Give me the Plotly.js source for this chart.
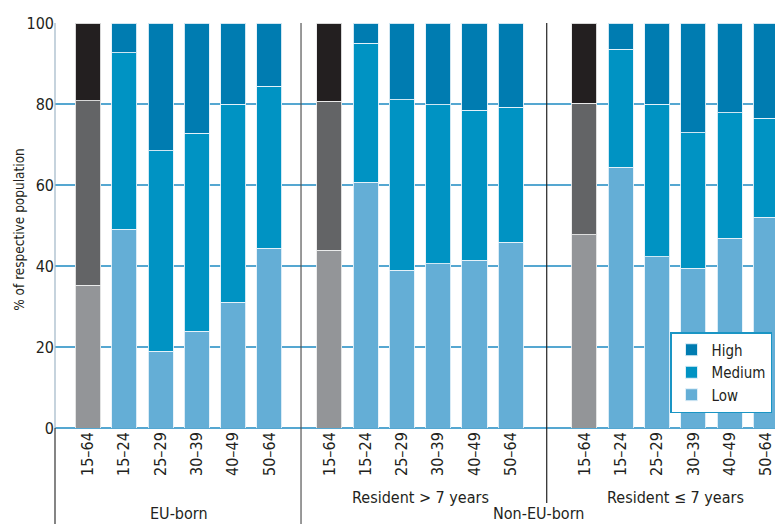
<!DOCTYPE html>
<html><head><meta charset="utf-8">
<script src="https://cdn.plot.ly/plotly-3.0.1.min.js"></script>
<style>html,body{margin:0;padding:0;background:#fff}</style>
</head><body><div id="chart" style="width:775px;height:524px"></div>
<script>
// ---- data ----
const ageGroups = ['15–64', '15–24', '25–29', '30–39', '40–49', '50–64'];
const subGroups = ['EU-born', 'Resident > 7 years', 'Resident ≤ 7 years'];
const parentGroups = ['EU-born', 'Non-EU-born'];
const levelNames = ['Low', 'Medium', 'High'];

const lowEU      = [35.2, 49.1, 18.9, 23.9, 31.1, 44.4];
const mediumEU   = [45.6, 43.6, 49.5, 48.9, 48.8, 40.0];
const highEU     = [19.2,  7.3, 31.6, 27.2, 20.1, 15.6];

const lowLong    = [43.9, 60.7, 38.9, 40.5, 41.4, 45.9];
const mediumLong = [36.8, 34.3, 42.1, 39.3, 37.0, 33.3];
const highLong   = [19.3,  5.0, 19.0, 20.2, 21.6, 20.8];

const lowShort    = [47.7, 64.4, 42.3, 39.4, 46.9, 52.0];
const mediumShort = [32.5, 29.1, 37.7, 33.5, 30.9, 24.5];
const highShort   = [19.8,  6.5, 20.0, 27.1, 22.2, 23.5];

// ---- layout helpers ----
const groupData = [
  [lowEU, mediumEU, highEU],
  [lowLong, mediumLong, highLong],
  [lowShort, mediumShort, highShort]
];
const groupOffsets = [0, 6.65, 13.68];
const separators = [5.87, 12.64];
const xMin = -0.909, xMax = 18.93;

const blueColors = ['#64aed6', '#0093c3', '#007cb1'];
const grayColors = ['#939598', '#636466', '#231f20'];
const font = '"DejaVu Sans Condensed", "Liberation Sans Narrow", sans-serif';
const txt = '#231f20';

const traces = [];
for (let lv = 0; lv < 3; lv++) {
  const bx = [], by = [], gx = [], gy = [];
  groupData.forEach((g, gi) => {
    g[lv].forEach((v, i) => {
      const pos = groupOffsets[gi] + i;
      if (i === 0) { gx.push(pos); gy.push(v); }
      else { bx.push(pos); by.push(v); }
    });
  });
  traces.push({
    type: 'bar', x: bx, y: by, name: levelNames[lv], width: 0.69,
    marker: {color: blueColors[lv], line: {color: 'rgba(230,242,250,0.9)', width: 1}},
    hoverinfo: 'y+name'
  });
  traces.push({
    type: 'bar', x: gx, y: gy, name: levelNames[lv] + ' (all)', width: 0.69,
    showlegend: false,
    marker: {color: grayColors[lv], line: {color: 'rgba(235,235,235,0.9)', width: 1}},
    hoverinfo: 'y+name'
  });
}

const tickvals = [], ticktext = [];
groupOffsets.forEach(off => ageGroups.forEach((a, i) => { tickvals.push(off + i); ticktext.push(a); }));

const plotH = 524 - 23 - 96;
const py = px => (427 - px) / plotH; // pixel y -> paper y

const annotations = [
  {text: '% of respective population', xref: 'paper', yref: 'paper', x: -0.051, y: 0.49,
   textangle: -90, showarrow: false, xanchor: 'center', yanchor: 'middle',
   font: {family: font, size: 13.5, color: txt}},
  {text: subGroups[1], xref: 'x', yref: 'paper', x: groupOffsets[1] + 2.5, y: py(497),
   showarrow: false, xanchor: 'center', yanchor: 'middle', font: {family: font, size: 16, color: txt}},
  {text: subGroups[2], xref: 'x', yref: 'paper', x: groupOffsets[2] + 2.5, y: py(497),
   showarrow: false, xanchor: 'center', yanchor: 'middle', font: {family: font, size: 16, color: txt}},
  {text: parentGroups[0], xref: 'x', yref: 'paper', x: groupOffsets[0] + 2.5, y: py(512),
   showarrow: false, xanchor: 'center', yanchor: 'middle', font: {family: font, size: 16, color: txt}},
  {text: parentGroups[1], xref: 'x', yref: 'paper', x: (separators[0] + xMax) / 2, y: py(512),
   showarrow: false, xanchor: 'center', yanchor: 'middle', font: {family: font, size: 16, color: txt}}
];

const shapes = [
  {type: 'line', xref: 'paper', yref: 'paper', x0: 0, x1: 0, y0: 0, y1: 1,
   line: {color: '#9fb6c6', width: 1.2}},
  {type: 'line', xref: 'paper', yref: 'paper', x0: 0, x1: 0, y0: py(524), y1: 0,
   line: {color: '#333', width: 1.2}},
  {type: 'line', xref: 'x', yref: 'paper', x0: separators[0], x1: separators[0], y0: py(524), y1: 1,
   line: {color: '#555', width: 1.2}},
  {type: 'line', xref: 'x', yref: 'paper', x0: separators[1], x1: separators[1], y0: py(502), y1: 1,
   line: {color: '#222', width: 1.2}}
];

const layout = {
  width: 775, height: 524,
  margin: {l: 55, r: 0, t: 23, b: 96, autoexpand: false},
  paper_bgcolor: '#fff', plot_bgcolor: '#fff',
  barmode: 'stack',
  showlegend: true,
  font: {family: font, color: txt, size: 16},
  xaxis: {
    range: [xMin, xMax], tickvals: tickvals, ticktext: ticktext, tickangle: -90,
    showgrid: false, zeroline: false, showline: false, ticks: '', automargin: false,
    ticklabeloverflow: 'allow',
    tickfont: {family: font, size: 16, color: txt}, fixedrange: true
  },
  yaxis: {
    range: [0, 100], tickvals: [0, 20, 40, 60, 80, 100], automargin: false,
    showgrid: true, gridcolor: '#55a7d1', gridwidth: 1.5,
    zeroline: true, zerolinecolor: '#55a7d1', zerolinewidth: 1.5,
    showline: false, ticks: '',
    tickfont: {family: font, size: 16, color: txt}, fixedrange: true
  },
  legend: {
    x: (772 - 55) / 720, y: py(331), xanchor: 'right', yanchor: 'top',
    traceorder: 'reversed', bgcolor: '#fff', bordercolor: '#1a95c4', borderwidth: 1.5,
    font: {family: font, size: 15, color: txt}, itemwidth: 30, tracegroupgap: 0
  },
  annotations: annotations,
  shapes: shapes
};

Plotly.newPlot('chart', traces, layout, {displayModeBar: false, staticPlot: true});
</script></body></html>
